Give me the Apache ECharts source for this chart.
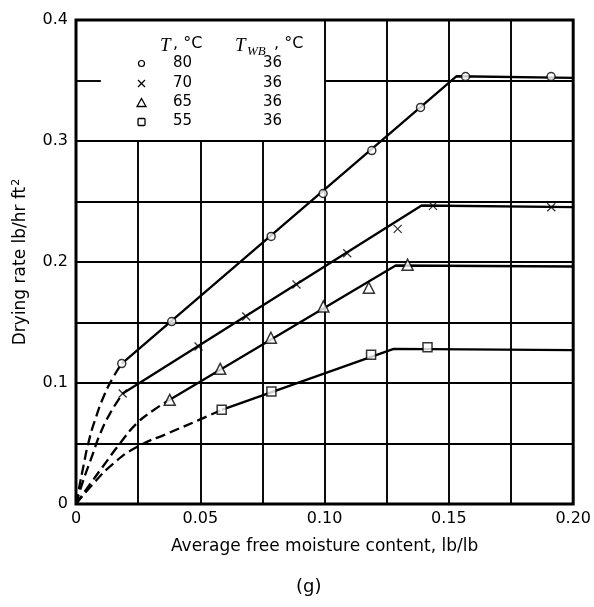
<!DOCTYPE html>
<html>
<head>
<meta charset="utf-8">
<script src="https://cdn.jsdelivr.net/npm/echarts@6/dist/echarts.min.js"></script>
<style>
html,body{margin:0;padding:0;background:#fff;}
#chart{width:594px;height:607px;}
</style>
</head>
<body>
<div id="chart"></div>
<script>
// ---- data ----
const tempsC = ['80', '70', '65', '55'];
const wetBulbC = ['36', '36', '36', '36'];
const xTicks = [0, 0.05, 0.10, 0.15, 0.20];
const yTicks = [0, 0.1, 0.2, 0.3, 0.4];

// measured points (x = free moisture, y = drying rate)
const pts80 = [[0.0184,0.1161],[0.0385,0.1508],[0.0785,0.2211],[0.0994,0.2566],[0.119,0.2921],[0.1386,0.3277],[0.1567,0.3533],[0.1911,0.3533]];
const pts70 = [[0.0188,0.0913],[0.0493,0.1302],[0.0685,0.155],[0.0887,0.1814],[0.1091,0.2073],[0.1294,0.2274],[0.1436,0.2464],[0.1912,0.2453]];
const pts65 = [[0.0377,0.0861],[0.058,0.1117],[0.0784,0.1374],[0.0995,0.1632],[0.1178,0.1787],[0.1334,0.1977]];
const pts55 = [[0.0586,0.0778],[0.0786,0.093],[0.1187,0.1233],[0.1414,0.1296]];

// fitted solid lines (falling-rate line, corner, constant-rate plateau)
const line80 = [[0.0184,0.1161],[0.153,0.3535],[0.2,0.3522]];
const line70 = [[0.0188,0.0913],[0.139,0.2467],[0.2,0.2453]];
const line65 = [[0.0377,0.0861],[0.1286,0.1971],[0.2,0.1963]];
const line55 = [[0.0586,0.0778],[0.1278,0.1282],[0.2,0.1272]];

// dashed extrapolations to the origin
const dash80 = [[0,0],[0.0013,0.0139],[0.0029,0.0304],[0.0049,0.0498],[0.0076,0.069],[0.0116,0.0911],[0.0152,0.1055],[0.0184,0.1161]];
const dash70 = [[0,0],[0.0029,0.0194],[0.0063,0.0387],[0.0096,0.0575],[0.0136,0.0745],[0.0188,0.0913]];
const dash65 = [[0,0],[0.0043,0.0125],[0.0109,0.0312],[0.0176,0.0498],[0.0243,0.0663],[0.031,0.0773],[0.0377,0.0861]];
const dash55 = [[0,0],[0.0069,0.0167],[0.0149,0.0332],[0.0243,0.0469],[0.0377,0.059],[0.0493,0.0693],[0.0586,0.0778]];

// grid lines of the printed chart paper
const vGridFull = [0.1, 0.125, 0.15, 0.175];
const vGridShort = [0.025, 0.05, 0.075];   // stop below the key box
const hGridFull = [0.05, 0.1, 0.15, 0.2, 0.25, 0.3];
const hGridPartial = [[0.1, 0.2, 0.35], [0, 0.01, 0.35]];

// ---- chart ----
const chart = echarts.init(document.getElementById('chart'), null, {renderer: 'canvas'});
const sans = 'DejaVu Sans';

const gridLines = [];
vGridFull.forEach(v => gridLines.push([{coord:[v,0]},{coord:[v,0.4]}]));
vGridShort.forEach(v => gridLines.push([{coord:[v,0]},{coord:[v,0.3]}]));
hGridFull.forEach(v => gridLines.push([{coord:[0,v]},{coord:[0.2,v]}]));
hGridPartial.forEach(p => gridLines.push([{coord:[p[0],p[2]]},{coord:[p[1],p[2]]}]));

const solidStyle = {color:'#000', width:2.3};
const dashStyle = {color:'#000', width:2.3, type:[10,5]};
function solid(d){return {type:'line', data:d, showSymbol:false, lineStyle:solidStyle, z:3, silent:true, animation:false};}
function dashed(d){return {type:'line', data:d, showSymbol:false, smooth:0.5, lineStyle:dashStyle, z:3, silent:true, animation:false};}
function marks(d, symbol, size){
  return {type:'scatter', data:d, symbol:symbol, symbolSize:size, z:5, silent:true, animation:false,
    itemStyle:{color:'#fff', borderColor:'#000', borderWidth:1.5}};
}
const crossPath = 'path://M0,0L10,10M10,0L0,10';

const option = {
  backgroundColor:'#fff',
  animation:false,
  grid:{left:76, top:20, width:499, height:484, show:true, borderColor:'#000', borderWidth:3, backgroundColor:'transparent'},
  xAxis:{type:'value', min:0, max:0.2, interval:0.05,
    axisLine:{show:false}, axisTick:{show:false}, splitLine:{show:false},
    axisLabel:{fontFamily:sans, fontSize:16, color:'#000', margin:7,
      formatter:v => v === 0 ? '0' : v.toFixed(2)},
    name:'Average free moisture content, lb/lb', nameLocation:'middle', nameGap:34,
    nameTextStyle:{fontFamily:sans, fontSize:17, color:'#000'}},
  yAxis:{type:'value', min:0, max:0.4, interval:0.1,
    axisLine:{show:false}, axisTick:{show:false}, splitLine:{show:false},
    axisLabel:{fontFamily:sans, fontSize:16, color:'#000', margin:8,
      formatter:v => v === 0 ? '0' : v.toFixed(1)},
    name:'Drying rate lb/hr ft{sup|2}', nameLocation:'middle', nameGap:45, nameRotate:90,
    nameTextStyle:{fontFamily:sans, fontSize:17, color:'#000',
      rich:{sup:{fontFamily:sans, fontSize:11, color:'#000', verticalAlign:'top', padding:[0,0,9,1]}}}},
  series:[
    {type:'line', data:[], markLine:{silent:true, symbol:['none','none'], label:{show:false},
      lineStyle:{color:'#000', width:1.9, type:'solid'}, data:gridLines, animation:false}, z:1},
    dashed(dash80), dashed(dash70), dashed(dash65), dashed(dash55),
    solid(line80), solid(line70), solid(line65), solid(line55),
    marks(pts80, 'circle', 8),
    {type:'scatter', data:pts70, symbol:crossPath, symbolSize:8, z:5, silent:true, animation:false,
      itemStyle:{color:'none', borderColor:'#000', borderWidth:1.3}},
    marks(pts65, 'triangle', 11),
    marks(pts55, 'rect', 9)
  ],
  graphic:[]
};

// key (legend table)
const g = option.graphic;
g.push({type:'text', left:160, top:36, style:{text:'T', font:'italic 19px "Liberation Serif"', fill:'#000'}});
g.push({type:'text', left:173, top:36, style:{text:', °C', font:'16px "DejaVu Sans"', fill:'#000'}});
g.push({type:'text', left:235, top:36, style:{text:'T', font:'italic 19px "Liberation Serif"', fill:'#000'}});
g.push({type:'text', left:247, top:45, style:{text:'WB', font:'italic 13px "Liberation Serif"', fill:'#000'}});
g.push({type:'text', left:274, top:36, style:{text:', °C', font:'16px "DejaVu Sans"', fill:'#000'}});
const rowY = [63.5, 83.5, 103, 122];
const sx = 141.5;
tempsC.forEach((t,i) => {
  g.push({type:'text', left:173, top:rowY[i]-8, style:{text:t, font:'15px "DejaVu Sans"', fill:'#000'}});
  g.push({type:'text', left:263, top:rowY[i]-8, style:{text:wetBulbC[i], font:'15px "DejaVu Sans"', fill:'#000'}});
});
g.push({type:'circle', shape:{cx:sx, cy:rowY[0], r:3}, style:{fill:'#fff', stroke:'#000', lineWidth:1.2}});
g.push({type:'polyline', shape:{points:[[sx-3.5,rowY[1]-3.5],[sx+3.5,rowY[1]+3.5]]}, style:{stroke:'#000', lineWidth:1.2}});
g.push({type:'polyline', shape:{points:[[sx+3.5,rowY[1]-3.5],[sx-3.5,rowY[1]+3.5]]}, style:{stroke:'#000', lineWidth:1.2}});
g.push({type:'polygon', shape:{points:[[sx,rowY[2]-4.5],[sx+4.5,rowY[2]+3.5],[sx-4.5,rowY[2]+3.5]]}, style:{fill:'#fff', stroke:'#000', lineWidth:1.3}});
g.push({type:'rect', shape:{x:sx-3.5, y:rowY[3]-3.5, width:7, height:7, r:1}, style:{fill:'#fff', stroke:'#000', lineWidth:1.3}});
g.push({type:'text', left:296, top:578, style:{text:'(g)', font:'18px "DejaVu Sans"', fill:'#000'}});

chart.setOption(option);
</script>
</body>
</html>
